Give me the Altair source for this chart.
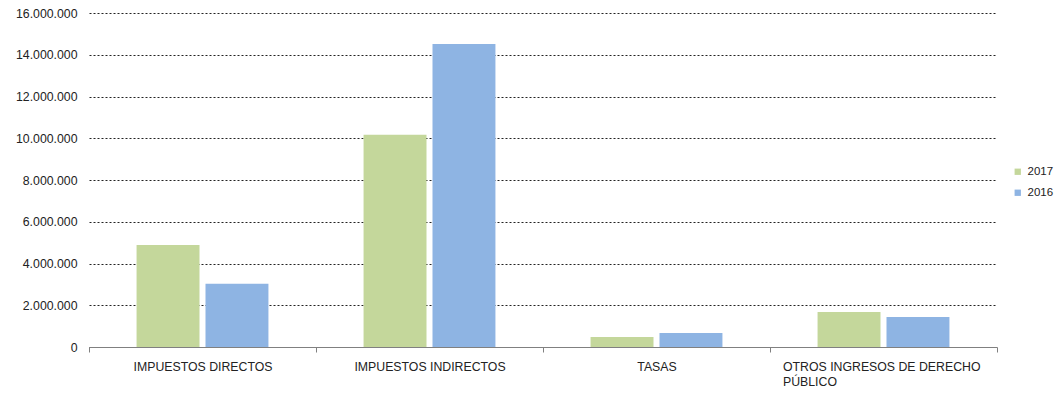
import altair as alt
import pandas as pd

categories = ["IMPUESTOS DIRECTOS", "IMPUESTOS INDIRECTOS", "TASAS", "OTROS INGRESOS DE DERECHO PÚBLICO"]
values_2017 = [4890000, 10170000, 480000, 1680000]
values_2016 = [3030000, 14510000, 670000, 1440000]
series = ["2017", "2016"]
y_ticks = [0, 2000000, 4000000, 6000000, 8000000, 10000000, 12000000, 14000000, 16000000]

rows = []
for c, a, b in zip(categories, values_2017, values_2016):
    rows.append({"cat": c, "serie": "2017", "valor": a})
    rows.append({"cat": c, "serie": "2016", "valor": b})
df = pd.DataFrame(rows)

FONT = "Liberation Sans"
LONG = "OTROS INGRESOS DE DERECHO PÚBLICO"

chart = alt.Chart(df).mark_bar().encode(
    x=alt.X("cat:N", sort=categories,
            scale=alt.Scale(paddingInner=0, paddingOuter=0),
            axis=alt.Axis(title=None, labelAngle=0, tickBand="extent", tickSize=5,
                          tickColor="#808080", domainColor="#808080", labelPadding=8,
                          labelFont=FONT, labelFontSize=12.3, labelColor="#222222",
                          labelLimit=400, labelLineHeight=15,
                          labelExpr=f"datum.value == '{LONG}' ? ['OTROS INGRESOS DE DERECHO', 'PÚBLICO'] : datum.value",
                          labelAlign={"expr": f"datum.value == '{LONG}' ? 'left' : 'center'"},
                          labelOffset={"expr": f"datum.value == '{LONG}' ? -101 : 0"},
                          grid=False)),
    xOffset=alt.XOffset("serie:N", sort=series,
                        scale=alt.Scale(paddingInner=0.087, paddingOuter=0.69)),
    y=alt.Y("valor:Q", scale=alt.Scale(domain=[0, 16000000], nice=False),
            axis=alt.Axis(title=None, values=y_ticks, ticks=False, domain=False,
                          labelPadding=12, labelFont=FONT, labelFontSize=12.3,
                          labelColor="#222222",
                          labelExpr="join(split(format(datum.value, ','), ','), '.')",
                          grid=True, gridColor="#222222", gridDash=[2, 2], gridWidth=1)),
    color=alt.Color("serie:N", scale=alt.Scale(domain=series, range=["#C4D79B", "#8EB4E3"]),
                    legend=alt.Legend(title=None, orient="none", legendX=923, legendY=153,
                                      symbolType="square", symbolSize=40, symbolStrokeWidth=0,
                                      labelFont=FONT, labelFontSize=11.5, labelColor="#222222",
                                      rowPadding=8, labelOffset=4, labelLimit=100)),
).properties(
    width=908, height=334,
    padding={"left": 81, "top": 5, "right": 57, "bottom": 40},
    autosize=alt.AutoSizeParams(type="none"),
).configure_view(stroke=None)

chart.save("out.html", embed_options={"renderer": "svg", "actions": False})
